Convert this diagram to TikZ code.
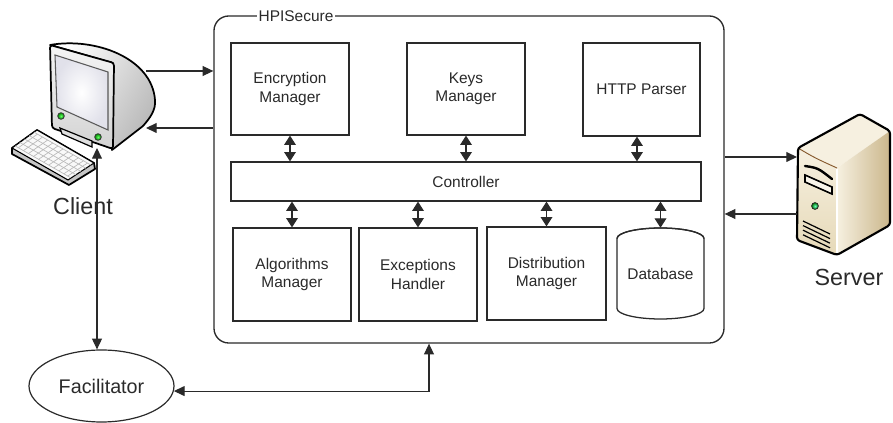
\documentclass[tikz,border=0pt]{standalone}
\usepackage{fontspec}
\setmainfont{Liberation Sans}
\usetikzlibrary{arrows.meta,shapes.geometric,calc}
\definecolor{linec}{HTML}{2A2A2A}
\definecolor{textc}{HTML}{2A2A2A}
\definecolor{beigeL}{HTML}{F6F0E0}
\definecolor{beigeM}{HTML}{E6D9B8}
\definecolor{beigeD}{HTML}{CBB78C}
\begin{document}
\begin{tikzpicture}[x=0.75pt,y=-0.75pt,
  every node/.style={text=textc,font=\fontsize{11.6pt}{13.8pt}\selectfont,align=center},
  module/.style={draw=linec,line width=0.95pt,fill=white,inner sep=0pt},
  conn/.style={draw=linec,line width=0.8pt},
  tip/.tip={Triangle[length=8pt,width=7.4pt]},
  dtip/.tip={Triangle[length=7pt,width=8.8pt]},
  dbl/.style={conn,dtip-dtip},
  outl/.style={draw=black,line width=1.3pt,line join=round},
  biglabel/.style={font=\fontsize{17.5pt}{20pt}\selectfont}]
\useasboundingbox (0,0) rectangle (893,423);

% ---------- HPISecure frame ----------
\node[draw=linec,line width=1pt,rounded corners=11pt,minimum width=382.5pt,minimum height=245.25pt] (hpi) at (469,179.5) {};
\node[fill=white,inner sep=1.5pt] (hpiname) at (296,16) {HPISecure};

% ---------- modules ----------
\node[module,minimum width=88.5pt,minimum height=69pt] (enc) at (290,89) {Encryption\\Manager};
\node[module,minimum width=88.5pt,minimum height=69pt] (keys) at (466,89) {Keys\\Manager};
\node[module,minimum width=87.75pt,minimum height=69.75pt] (http) at (641.5,89.5) {HTTP Parser};
\node[module,minimum width=352.5pt,minimum height=29.25pt] (ctrl) at (466,181.5) {Controller};
\node[module,minimum width=88.5pt,minimum height=69.75pt] (alg) at (292,274.5) {Algorithms\\Manager};
\node[module,minimum width=88.5pt,minimum height=69.75pt] (exc) at (418,274.5) {Exceptions\\Handler};
\node[module,minimum width=89.25pt,minimum height=69.75pt] (dist) at (546.5,273.5) {Distribution\\Manager};

% database cylinder
\draw[draw=linec,line width=0.95pt,fill=white]
  (617,238.5) -- (617,308.5) arc[start angle=180,end angle=360,x radius=43.5,y radius=-10.5]
  -- (704,238.5) arc[start angle=0,end angle=180,x radius=43.5,y radius=-10.5] -- cycle;
\draw[draw=linec,line width=0.95pt] (617,238.5) arc[start angle=180,end angle=360,x radius=43.5,y radius=10.5];
\node[minimum width=65.25pt,minimum height=68.25pt,inner sep=0pt] (db) at (660.5,273.5) {\raisebox{-5pt}{Database}};

% ---------- module links ----------
\draw[dbl] (enc.south) -- (enc.south |- ctrl.north);
\draw[dbl] (keys.south) -- (keys.south |- ctrl.north);
\draw[dbl] ([xshift=-3.4pt]http.south) -- ([xshift=-3.4pt]http.south |- ctrl.north);
\draw[dbl] (alg.north |- ctrl.south) -- (alg.north);
\draw[dbl] (exc.north |- ctrl.south) -- (exc.north);
\draw[dbl] (dist.north |- ctrl.south) -- (dist.north);
\draw[dbl] (db.north |- ctrl.south) -- (db.north);

% ---------- client workstation ----------
% monitor shell
\draw[outl,shading=axis,left color=white,right color=gray!55,shading angle=60]
  (50,45) .. controls (95,37) and (152,58) .. (155,100)
  .. controls (156,110) and (150,118) .. (143,126) -- (112,150) -- (113,63) -- cycle;
% bezel
\draw[outl,top color=gray!8,bottom color=gray!35,rounded corners=2pt]
  (50,45) -- (114,63) -- (113,149) -- (52,128) -- cycle;
% screen
\draw[draw=gray!70!black,line width=0.8pt,inner color=white,outer color=blue!18!gray!20]
  (55,55) -- (108,72) -- (108,130) -- (57,107) -- cycle;
% stand
\draw[draw=black,line width=0.9pt,fill=gray!25] (60,128) -- (92,141) -- (92,147) -- (62,134) -- cycle;
% indicator lights
\draw[draw=gray!40!black,line width=0.6pt,inner color=green!60!white,outer color=green!55!black] (61,116) circle[radius=3.3];
\draw[draw=gray!40!black,line width=0.6pt,inner color=green!60!white,outer color=green!55!black] (98,137) circle[radius=3.3];
% keyboard
\draw[outl,fill=gray!45] (12,148) -- (37,130) -- (94,163) -- (95,169) -- (69,185) -- (12,154) -- cycle;
\draw[draw=black,line width=0.8pt,fill=gray!5] (12,148) -- (37,130) -- (94,163) -- (68,180) -- cycle;
\coordinate (kA) at (12,148); \coordinate (kB) at (37,130);
\coordinate (kC) at (94,163); \coordinate (kD) at (68,180);
\foreach \t in {0.12,0.31,0.5,0.69,0.88}
  \draw[gray!55,line width=0.5pt] ($(kA)!\t!(kB)$) -- ($(kD)!\t!(kC)$);
\foreach \s in {0.06,0.15,0.24,0.33,0.42,0.51,0.6,0.69,0.78,0.87,0.94}
  \draw[gray!55,line width=0.5pt] ($(kA)!\s!(kD)!0.12!($(kB)!\s!(kC)$)$) -- ($(kA)!\s!(kD)!0.88!($(kB)!\s!(kC)$)$);
\node[biglabel] (client) at (83,206) {Client};

\coordinate (monOut) at (146,71);
\coordinate (monIn) at (146,128);
\coordinate (monBase) at (97,148);

% ---------- server tower ----------
\fill[beigeL] (798,148) -- (860,114) -- (890,131) -- (837,168) -- cycle;
\shade[left color=beigeL,right color=beigeD] (837,168) -- (890,131) -- (890,225) -- (837,255) -- cycle;
\shade[top color=beigeL,bottom color=beigeM] (798,148) -- (837,168) -- (837,255) -- (797,240) -- cycle;
\draw[draw=brown!70!black,line width=0.7pt] (798,148) .. controls (815,158) .. (837,168);
\draw[draw=white,line width=0.8pt] (837,169) -- (837,254);
\draw[outl,line width=1.6pt,rounded corners=2pt] (798,148) -- (860,114) -- (890,131) -- (890,225) -- (837,255) -- (797,240) -- cycle;
\draw[black,line width=1.8pt,line cap=round] (805,166) .. controls (818,168) .. (832,179);
\draw[draw=black,line width=1.2pt,fill=white!70!beigeM] (805,175) -- (832,187) -- (832,194) -- (805,182) -- cycle;
\draw[draw=gray!30!black,line width=0.6pt,inner color=green!40!cyan!60!white,outer color=green!45!black] (815,206) circle[radius=3.4];
\foreach \k in {0,1,2,3}
  \draw[black,line width=0.9pt] (803,221+4.6*\k) -- (830,234+4.6*\k);
\node[biglabel] (server) at (849,277) {Server};

\coordinate (srvIn) at (797,157);
\coordinate (srvOut) at (797,214);

% ---------- facilitator ----------
\node[draw=linec,line width=0.9pt,ellipse,minimum width=108.75pt,minimum height=54pt,inner sep=0pt,
      font=\fontsize{14.8pt}{17pt}\selectfont] (fac) at (101.5,386) {Facilitator};

% ---------- connectors ----------
\draw[conn,-tip] (monOut) -- (monOut -| hpi.west);
\draw[conn,tip-] (monIn) -- (monIn -| hpi.west);
\draw[conn,tip-tip] (monBase) -- (monBase |- fac.north);
\draw[conn,-tip] (srvIn -| hpi.east) -- (srvIn);
\draw[conn,tip-] (srvOut -| hpi.east) -- (srvOut);
\draw[conn,tip-tip] (fac.-4) -| ([xshift=-30pt]hpi.south);
\end{tikzpicture}
\end{document}
